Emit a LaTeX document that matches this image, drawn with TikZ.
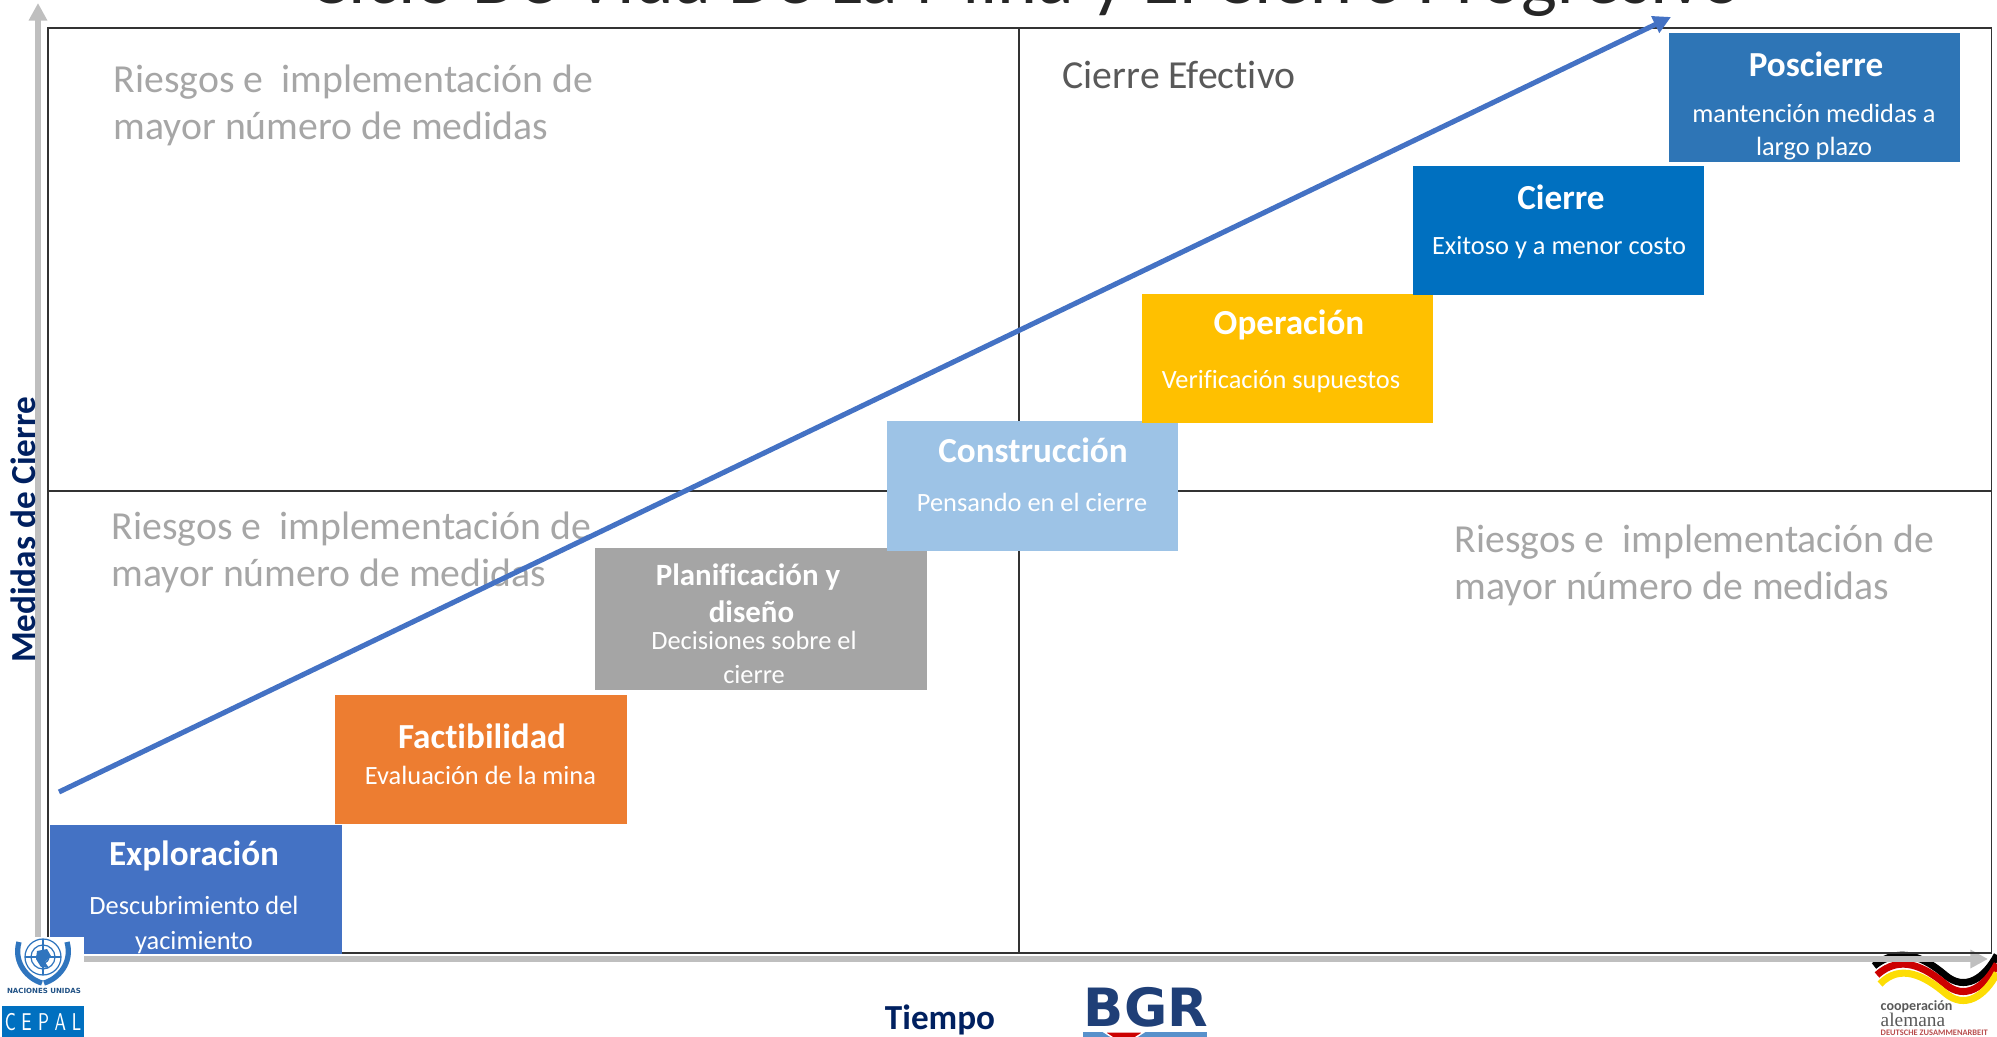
\documentclass[tikz,border=0pt]{standalone}
\usepackage{fontspec}
\usepackage{graphicx}
\setmainfont[Ligatures=NoCommon]{Carlito}
\newfontfamily\logofont{DejaVu Sans}
\newfontfamily\serifname{Liberation Serif}
\usetikzlibrary{arrows.meta}
\definecolor{axisgrey}{HTML}{BFBFBF}
\definecolor{textgrey}{HTML}{A6A6A6}
\definecolor{navytext}{HTML}{002060}
\definecolor{unblue}{HTML}{2F75BE}
\definecolor{cepalblue}{HTML}{0070C0}
\definecolor{bgrblue}{HTML}{1F3F77}
\tikzset{
	phasebox/.style={minimum width=2.92cm, minimum height=1.29cm, inner sep=0pt, outer sep=0pt},
	phasetitle/.style={text=white, inner sep=0pt, font=\fontsize{10}{12}\selectfont\bfseries},
	phasetext/.style={text=white, inner sep=0pt, font=\fontsize{7.5}{9}\selectfont},
	risktext/.style={text=textgrey, anchor=west, inner sep=0pt, font=\fontsize{11.3}{13}\selectfont},
	axislabel/.style={text=navytext, inner sep=0pt, font=\fontsize{10}{12}\selectfont\bfseries},
	axisline/.style={draw=axisgrey, line width=1.5pt, -{Triangle[length=5pt, width=5pt]}},
	gridline/.style={draw=black!80, line width=0.3pt},
}
\begin{document}
\begin{tikzpicture}[x=0.01cm, y=-0.01cm]
	\useasboundingbox (0,0) rectangle (1997,1037);
	% Titulo
	\node[anchor=base, inner sep=0pt, text=black!85, font=\fontsize{21.6}{26}\selectfont] (title) at (1025,4) {Ciclo De Vida De La Mina y El Cierre Progresivo};
	% Logo alemana (cinta)
	\draw[line width=2pt, black] (1874,966) .. controls (1900,945) and (1925,958) .. (1945,975) .. controls (1965,992) and (1985,978) .. (1997,955);
	\draw[line width=2pt, red!80!black] (1877,975) .. controls (1900,954) and (1925,967) .. (1945,984) .. controls (1965,1001) and (1985,987) .. (1997,964);
	\draw[line width=2pt, yellow!80!orange] (1880,984) .. controls (1900,963) and (1925,976) .. (1945,993) .. controls (1965,1010) and (1985,996) .. (1997,973);
	% Ejes
	\coordinate (yaxisstart) at (38,953);
	\coordinate (yaxisend) at (38,3);
	\coordinate (xaxisstart) at (38,959);
	\coordinate (xaxisend) at (1988,959);
	\draw[axisline] (yaxisstart) -- (yaxisend);
	\draw[axisline] (xaxisstart) -- (xaxisend);
	% Cuadrantes
	\coordinate (gridtop) at (1019,28);
	\coordinate (gridbottom) at (1019,953);
	\coordinate (gridleft) at (48,491);
	\coordinate (gridright) at (1991,491);
	\draw[gridline] (48,28) rectangle (1991,953);
	\draw[gridline] (gridtop) -- (gridbottom);
	\draw[gridline] (gridleft) -- (gridright);
	% Textos de los cuadrantes
	\node[risktext] (riskone) at (113,82) {Riesgos e \ implementación de};
	\node[risktext] (riskonetwo) at (113,129) {mayor número de medidas};
	\node[risktext] (risktwo) at (111,529) {Riesgos e \ implementación de};
	\node[risktext] (risktwotwo) at (111,576) {mayor número de medidas};
	\node[risktext] (riskthree) at (1454,542) {Riesgos e \ implementación de};
	\node[risktext] (riskthreetwo) at (1454,589) {mayor número de medidas};
	\node[risktext, text=black!65] (efectivo) at (1062,75) {Cierre Efectivo};
	% Flecha
	\coordinate (arrowstart) at (59,792);
	\coordinate (arrowend) at (1671,17);
	\draw[draw={rgb,255:red,68;green,114;blue,196}, line width=1.45pt, -{Triangle[length=5pt, width=5pt]}] (arrowstart) -- (arrowend);
	% Etapas
	\node[phasebox, fill={rgb,255:red,68;green,114;blue,196}] (exploracion) at (196,889.5) {};
	\node[phasetitle] (exploraciontitle) at (194,856) {Exploración};
	\node[phasetext] (exploraciontextone) at (194,905) {Descubrimiento del};
	\node[phasetext] (exploraciontexttwo) at (194,943) {yacimiento};
	\node[phasebox, fill={rgb,255:red,237;green,125;blue,49}] (factibilidad) at (481,759.5) {};
	\node[phasetitle] (factibilidadtitle) at (482,736) {Factibilidad};
	\node[phasetext] (factibilidadtext) at (480.5,775) {Evaluación de la mina};
	\node[phasebox, minimum width=3.32cm, minimum height=1.41cm, fill={rgb,255:red,165;green,165;blue,165}] (planificacion) at (761,619) {};
	\node[phasetitle, font=\fontsize{8.8}{10}\selectfont\bfseries] (planificaciontitle) at (748,577) {Planificación y};
	\node[phasetitle, font=\fontsize{8.8}{10}\selectfont\bfseries] (planificaciontitletwo) at (751.5,612) {diseño};
	\node[phasetext] (planificaciontextone) at (754,640) {Decisiones sobre el};
	\node[phasetext] (planificaciontexttwo) at (754,675) {cierre};
	\node[phasebox, minimum width=2.91cm, fill={rgb,255:red,157;green,195;blue,230}] (construccion) at (1032.5,486) {};
	\node[phasetitle] (construcciontitle) at (1033,450) {Construcción};
	\node[phasetext] (construcciontext) at (1032,502.5) {Pensando en el cierre};
	\node[phasebox, minimum width=2.90cm, fill={rgb,255:red,255;green,192;blue,0}] (operacion) at (1287.5,358.5) {};
	\node[phasetitle] (operaciontitle) at (1289,325) {Operación};
	\node[phasetext] (operaciontext) at (1281,382) {Verificación supuestos};
	\node[phasebox, minimum width=2.91cm, fill={rgb,255:red,0;green,112;blue,192}] (cierre) at (1558.5,230.5) {};
	\node[phasetitle] (cierretitle) at (1561,197) {Cierre};
	\node[phasetext] (cierretext) at (1559,248) {Exitoso y a menor costo};
	\node[phasebox, minimum width=2.91cm, fill={rgb,255:red,46;green,117;blue,182}] (poscierre) at (1814.5,97.5) {};
	\node[phasetitle] (poscierretitle) at (1816,64) {Poscierre};
	\node[phasetext] (poscierretextone) at (1814,113) {mantención medidas a};
	\node[phasetext] (poscierretexttwo) at (1814,149) {largo plazo};
	% Nombres de los ejes
	\node[axislabel, rotate=90] (ylabel) at (23,530) {Medidas de Cierre};
	\node[axislabel] (xlabel) at (940,1020) {Tiempo};
	% Logo Naciones Unidas
	\fill[white] (0,937) rectangle (84,1037);
	\foreach \r in {6,12,18}
		\draw[unblue, line width=0.35pt] (43,957) circle (\r);
	\draw[unblue, line width=0.3pt] (25,957) -- (61,957) (43,939) -- (43,975);
	\fill[unblue] (37,951) -- (47,949) -- (51,956) -- (45,962) -- (49,968) -- (41,967) -- (36,959) -- cycle;
	\draw[unblue, line width=1.5pt] (19,942) .. controls (13,963) and (28,979) .. (42,983);
	\draw[unblue, line width=1.5pt] (67,942) .. controls (73,963) and (58,979) .. (44,983);
	\node[inner sep=0pt, text=unblue!70!black, font=\logofont\fontsize{2}{3}\selectfont\bfseries] (unname) at (44,991) {NACIONES UNIDAS};
	\node[minimum width=0.82cm, minimum height=0.31cm, inner sep=0pt, fill=cepalblue] (cepalbox) at (43,1021.5) {};
	\node[inner sep=0pt, text=white, font=\fontsize{4.6}{6}\selectfont\sffamily] (cepalname) at (43,1022) {\scalebox{1}[1.5]{C\hspace{1.6pt}E\hspace{1.8pt}P\hspace{1.6pt}A\hspace{1.6pt}L}};
	% Logo BGR
	\node[inner sep=0pt, text=bgrblue, font=\logofont\fontsize{15}{17}\selectfont\bfseries] (bgrname) at (1146,1007) {BGR};
	\fill[unblue!80] (1083,1032) rectangle (1207,1037);
	\fill[red!80!black, draw=white, line width=0.4pt] (1104,1032) -- (1144,1032) -- (1124,1045) -- cycle;
	% Logo alemana (texto)
	\node[anchor=west, inner sep=0pt, text=black!65, font=\fontsize{4}{5}\selectfont\bfseries] (coopname) at (1880,1007) {cooperación};
	\node[anchor=west, inner sep=0pt, text=black!65, font=\serifname\fontsize{5.5}{6}\selectfont] (alemname) at (1880,1020) {alemana};
	\node[anchor=west, inner sep=0pt, text=red!60!black!70, font=\fontsize{2.4}{3}\selectfont\bfseries] (deutname) at (1880,1033) {DEUTSCHE ZUSAMMENARBEIT};
\end{tikzpicture}
\end{document}
